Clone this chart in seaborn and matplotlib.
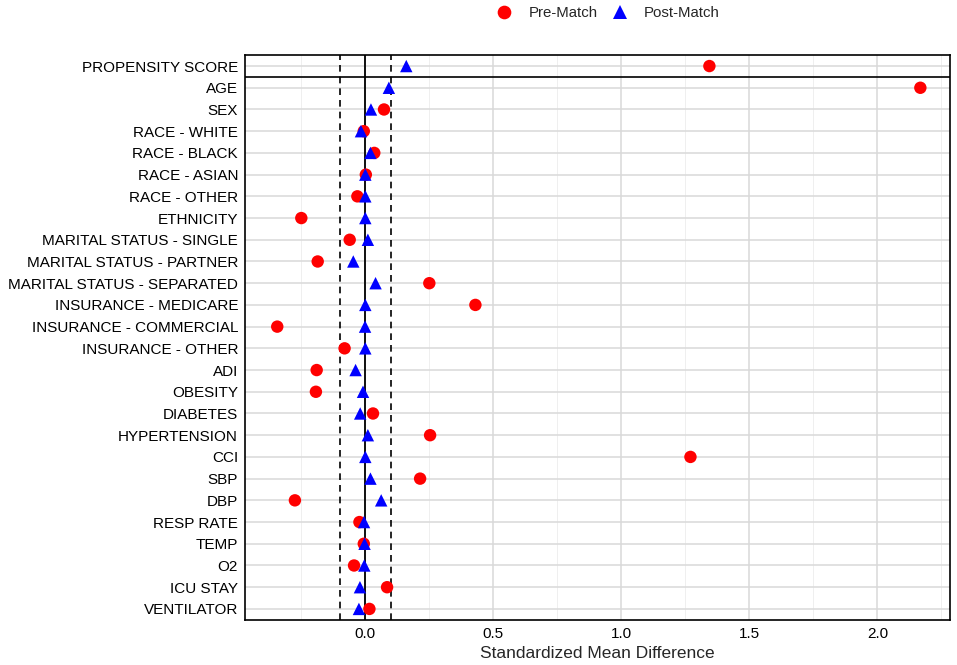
import matplotlib
matplotlib.use("Agg")
import matplotlib.pyplot as plt
from matplotlib.ticker import MultipleLocator
import seaborn as sns
import pandas as pd

# Covariates, top to bottom
covariates = [
    "PROPENSITY SCORE", "AGE", "SEX", "RACE - WHITE", "RACE - BLACK",
    "RACE - ASIAN", "RACE - OTHER", "ETHNICITY", "MARITAL STATUS - SINGLE",
    "MARITAL STATUS - PARTNER", "MARITAL STATUS - SEPARATED",
    "INSURANCE - MEDICARE", "INSURANCE - COMMERCIAL", "INSURANCE - OTHER",
    "ADI", "OBESITY", "DIABETES", "HYPERTENSION", "CCI", "SBP", "DBP",
    "RESP RATE", "TEMP", "O2", "ICU STAY", "VENTILATOR",
]

# Standardized mean differences
pre_match = [1.344, 2.168, 0.073, -0.006, 0.035, 0.002, -0.031, -0.25, -0.061,
             -0.186, 0.25, 0.43, -0.344, -0.081, -0.19, -0.193, 0.03, 0.253,
             1.27, 0.214, -0.275, -0.023, -0.006, -0.044, 0.085, 0.016]
post_match = [0.160, 0.092, 0.022, -0.017, 0.02, 0.0, 0.0, 0.0, 0.01,
              -0.047, 0.04, 0.0, -0.001, 0.0, -0.038, -0.009, -0.02, 0.01,
              0.0, 0.02, 0.062, -0.005, -0.003, -0.004, -0.021, -0.025]

df = pd.DataFrame({
    "Covariate": covariates * 2,
    "SMD": pre_match + post_match,
    "Sample": ["Pre-Match"] * len(covariates) + ["Post-Match"] * len(covariates),
})

sns.set_style("white")
plt.rcParams["font.family"] = ["Liberation Sans", "DejaVu Sans"]

fig, ax = plt.subplots(figsize=(9.57, 6.65), dpi=100)
fig.subplots_adjust(left=0.256, right=0.993, top=0.917, bottom=0.068)

# grid first so the points sit above it
ax.set_axisbelow(True)
ax.xaxis.set_major_locator(MultipleLocator(0.5))
ax.xaxis.set_minor_locator(MultipleLocator(0.25))
ax.grid(which="major", axis="both", color="#d9d9d9", linewidth=1.1)
ax.grid(which="minor", axis="x", color="#ededed", linewidth=0.6)

# reference lines
ax.axvline(0, color="black", linewidth=1.3, zorder=1)
ax.axvline(-0.1, color="black", linewidth=1.2, linestyle=(0, (4, 3)), zorder=1)
ax.axvline(0.1, color="black", linewidth=1.2, linestyle=(0, (4, 3)), zorder=1)
ax.axhline(0.5, color="black", linewidth=1.2, zorder=1)

sns.scatterplot(
    data=df, x="SMD", y="Covariate", hue="Sample", style="Sample",
    palette={"Pre-Match": "#ff0000", "Post-Match": "#0000ff"},
    markers={"Pre-Match": "o", "Post-Match": "^"},
    hue_order=["Pre-Match", "Post-Match"],
    style_order=["Pre-Match", "Post-Match"],
    s=80, linewidth=0, ax=ax, zorder=3,
)

ax.set_ylim(len(covariates) - 0.5, -0.5)
ax.set_xlim(-0.47, 2.285)
ax.set_ylabel("")
ax.set_xlabel("Standardized Mean Difference", fontsize=12.5, labelpad=4)
ax.tick_params(axis="both", which="major", length=3, color="#333333",
               labelsize=11, labelcolor="black", pad=2)
ax.tick_params(axis="x", which="minor", length=0)

for spine in ax.spines.values():
    spine.set_visible(True)
    spine.set_color("black")
    spine.set_linewidth(1.2)

handles, labels = ax.get_legend_handles_labels()
ax.legend(handles, labels, loc="center", bbox_to_anchor=(0.51, 1.075),
          ncol=2, frameon=False, fontsize=10.8, handletextpad=0.6,
          columnspacing=0.5, markerscale=1.1)

fig.savefig("out.png", dpi=100)
